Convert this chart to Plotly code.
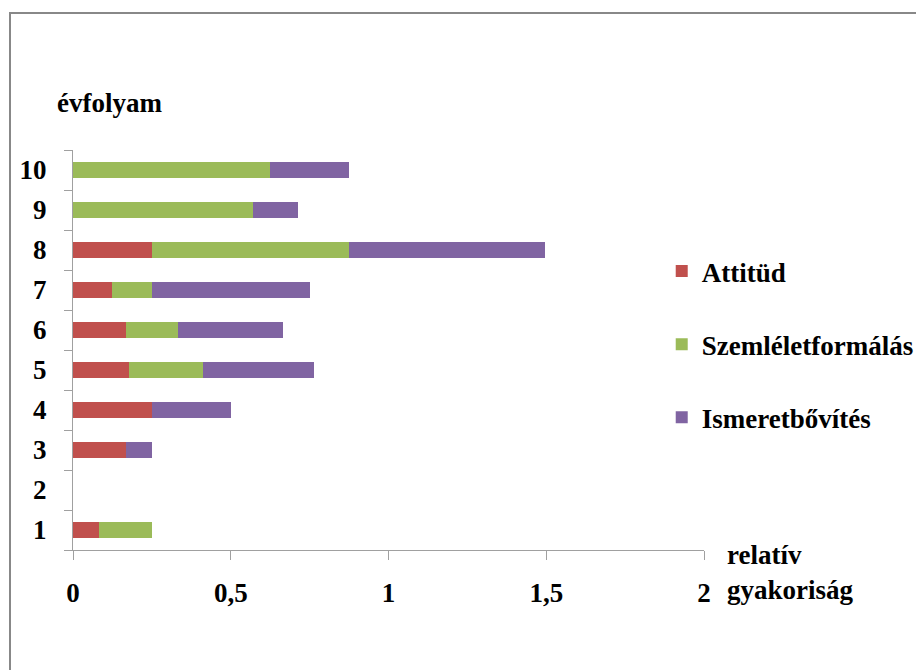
import plotly.graph_objects as go

grades = ["1", "2", "3", "4", "5", "6", "7", "8", "9", "10"]
attitud = [0.083, 0, 0.167, 0.25, 0.176, 0.167, 0.125, 0.25, 0, 0]
szemlelet = [0.167, 0, 0, 0, 0.235, 0.167, 0.125, 0.625, 0.571, 0.625]
ismeret = [0, 0, 0.083, 0.25, 0.353, 0.333, 0.5, 0.62, 0.143, 0.25]
series_names = ["Attitüd", "Szemléletformálás", "Ismeretbővítés"]
colors = ["#C0504D", "#9BBB59", "#8064A2"]
xtick_vals = [0, 0.5, 1, 1.5, 2]
xtick_text = ["0", "0,5", "1", "1,5", "2"]

FONT = "Liberation Serif"
FS = 27

fig = go.Figure()
for name, vals, col in zip(series_names, [attitud, szemlelet, ismeret], colors):
    fig.add_trace(go.Bar(
        y=grades, x=vals, name=name, orientation="h",
        marker=dict(color=col, line=dict(width=0)),
        legendgroup=name,
    ))

fig.update_layout(
    width=916, height=670,
    barmode="stack", bargap=0.6,
    plot_bgcolor="white", paper_bgcolor="white",
    margin=dict(l=73, r=212, t=150, b=120, autoexpand=False),
    font=dict(family=FONT, color="black"),
    showlegend=True,
    legend=dict(
        x=0.933, xanchor="left", xref="paper",
        y=0.7575, yanchor="top",
        traceorder="grouped", tracegroupgap=35,
        font=dict(family=FONT, size=FS, color="black", weight="bold"),
        bgcolor="rgba(0,0,0,0)", itemwidth=30,
    ),
    xaxis=dict(
        range=[0, 2], tickvals=xtick_vals, ticktext=xtick_text,
        showgrid=False, zeroline=False,
        showline=True, linecolor="#A0A0A0", linewidth=1,
        ticks="outside", ticklen=9, tickcolor="#A0A0A0",
        ticklabelstandoff=10,
        tickfont=dict(family=FONT, size=FS, color="black", weight="bold"),
    ),
    yaxis=dict(
        categoryorder="array", categoryarray=grades,
        showgrid=False, zeroline=False,
        showline=True, linecolor="#A0A0A0", linewidth=1,
        ticks="outside", ticklen=8, tickcolor="#A0A0A0",
        tickson="boundaries", ticklabelstandoff=20,
        tickfont=dict(family=FONT, size=FS, color="black", weight="bold"),
    ),
    shapes=[dict(
        type="rect", xref="paper", yref="paper",
        x0=-63/631, x1=1.5, y0=-1, y1=(670-13-120)/400,
        line=dict(color="#888888", width=2), fillcolor="rgba(0,0,0,0)",
        layer="below",
    )],
    annotations=[
        dict(text="<b>évfolyam</b>", xref="paper", yref="paper",
             x=(55-73)/631, y=(670-103-120)/400, xanchor="left", yanchor="middle",
             showarrow=False, font=dict(family=FONT, size=FS, color="black")),
        dict(text="<b>relatív<br>gyakoriság</b>", xref="paper", yref="paper",
             x=(725-73)/631, y=(670-572-120)/400, xanchor="left", yanchor="middle",
             align="left", showarrow=False,
             font=dict(family=FONT, size=FS, color="black")),
    ],
)

fig.write_html("out.html", config={"displayModeBar": False},
               post_script="document.body.style.margin='0';document.body.style.overflow='hidden';")
